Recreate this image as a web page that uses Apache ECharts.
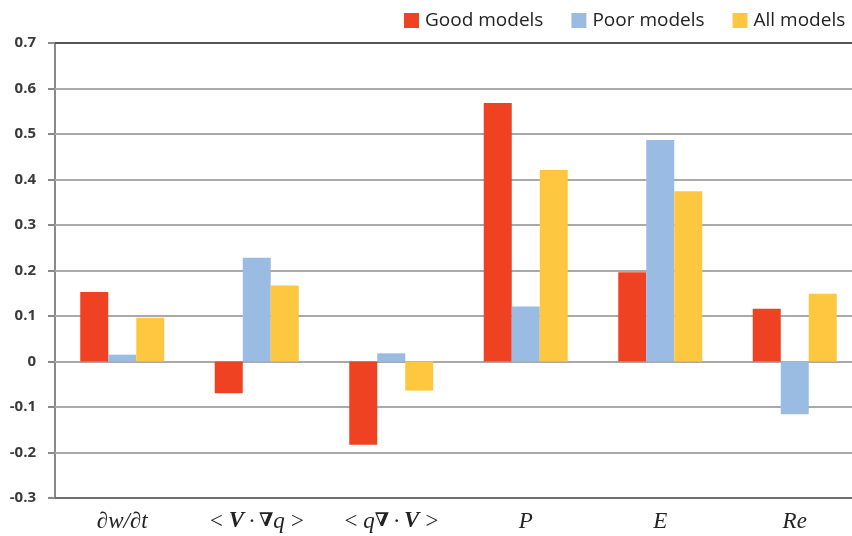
<!DOCTYPE html>
<html>
<head>
<meta charset="utf-8">
<script src="https://cdn.jsdelivr.net/npm/echarts@6/dist/echarts.min.js"></script>
<style>
html,body{margin:0;padding:0;background:#fff;overflow:hidden;width:852px;height:536px;}
#chart{width:870px;height:536px;}
</style>
</head>
<body>
<div id="chart"></div>
<script>
var categories = ['dwdt', 'vgradq', 'qdivv', 'P', 'E', 'Re'];
var goodModels = [0.153, -0.070, -0.183, 0.568, 0.196, 0.116];
var poorModels = [0.015, 0.228, 0.018, 0.121, 0.487, -0.116];
var allModels  = [0.096, 0.167, -0.064, 0.421, 0.374, 0.149];
var yTicks = [-0.3, -0.2, -0.1, 0, 0.1, 0.2, 0.3, 0.4, 0.5, 0.6, 0.7];

var labelMap = {
  dwdt: '{i|∂w/∂t}',
  vgradq: '{i|<\u2009}{b|V}{i|\u2009·\u2009}{n|∇}{i|q\u2009>}',
  qdivv: '{i|<\u2009q}{n|∇}{i|\u2009·\u2009}{b|V}{i|\u2009>}',
  P: '{i|P}',
  E: '{i|E}',
  Re: '{i|Re}'
};

var chart = echarts.init(document.getElementById('chart'), null, {renderer: 'canvas'});
chart.setOption({
  animation: false,
  backgroundColor: '#ffffff',
  grid: {left: 55, top: 43, width: 807, height: 455, containLabel: false},
  legend: {
    left: 404, top: 11, padding: 0,
    itemWidth: 15, itemHeight: 15, itemGap: 28,
    icon: 'rect',
    textStyle: {fontFamily: 'Open Sans, sans-serif', fontSize: 19, color: '#222', padding: [0, 0, 0, 1]},
    data: ['Good models', 'Poor models', 'All models']
  },
  xAxis: {
    type: 'category',
    data: categories,
    position: 'bottom',
    axisLine: {show: true, onZero: false, lineStyle: {color: '#707070', width: 2}},
    axisTick: {show: false},
    axisLabel: {
      interval: 0,
      margin: 12,
      formatter: function (v) { return labelMap[v]; },
      rich: {
        i: {fontFamily: 'Liberation Serif, serif', fontStyle: 'italic', fontSize: 23, color: '#222'},
        b: {fontFamily: 'Liberation Serif, serif', fontStyle: 'italic', fontWeight: 'bold', fontSize: 23, color: '#222'},
        n: {fontFamily: 'DejaVu Serif, serif', fontWeight: 'bold', fontSize: 19, color: '#222'}
      }
    },
    splitLine: {show: false}
  },
  yAxis: {
    type: 'value',
    min: -0.3, max: 0.7, interval: 0.1,
    axisLine: {show: true, lineStyle: {color: '#8a8a8a', width: 2}},
    axisTick: {show: true, length: 7, lineStyle: {color: '#8a8a8a', width: 2}},
    axisLabel: {
      margin: 19,
      fontFamily: 'Open Sans, sans-serif', fontSize: 15, fontWeight: 'bold', color: '#3a3a3a',
      formatter: function (v) {
        var r = Math.round(v * 10) / 10;
        var s = r.toFixed(1);
        if (r === 0) s = '0';
        return s;
      }
    },
    splitLine: {show: true, lineStyle: {color: '#a9a9a9', width: 2, type: 'solid'}}
  },
  series: [
    {name: 'Good models', type: 'bar', data: goodModels, barWidth: 28, barGap: '0%', itemStyle: {color: '#EE4223'}, z: 3,
     markLine: {
       silent: true, symbol: 'none', z: 1, animation: false,
       label: {show: false},
       lineStyle: {color: '#a9a9a9', width: 2, type: 'solid'},
       data: yTicks.slice(1, -1).map(function (v) { return {yAxis: v}; })
     }},
    {name: 'Poor models', type: 'bar', data: poorModels, barWidth: 28, barGap: '0%', itemStyle: {color: '#9ABCE2'}, z: 3},
    {name: 'All models', type: 'bar', data: allModels, barWidth: 28, barGap: '0%', itemStyle: {color: '#FDC840'}, z: 3}
  ],
  graphic: [
    {type: 'line', shape: {x1: 55, y1: 43, x2: 870, y2: 43}, style: {stroke: '#555', lineWidth: 2}, z: 10}
  ]
});
</script>
</body>
</html>
